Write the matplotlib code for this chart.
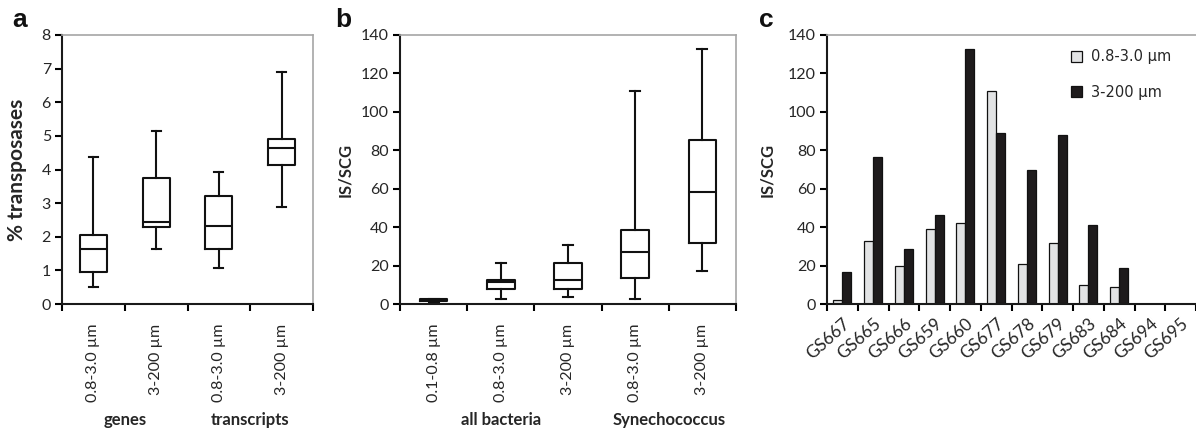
import matplotlib
matplotlib.use("Agg")
import matplotlib.pyplot as plt
import numpy as np

plt.rcParams['font.family'] = ['Lato', 'DejaVu Sans']

# ---------------- data ----------------
a_labels = ["0.8-3.0 µm", "3-200 µm", "0.8-3.0 µm", "3-200 µm"]
a_whislo = [0.50, 1.65, 1.07, 2.88]
a_q1 = [0.95, 2.30, 1.63, 4.12]
a_med = [1.65, 2.45, 2.32, 4.65]
a_q3 = [2.05, 3.75, 3.20, 4.90]
a_whishi = [4.38, 5.15, 3.92, 6.90]
a_groups = ["genes", "transcripts"]

b_labels = ["0.1-0.8 µm", "0.8-3.0 µm", "3-200 µm", "0.8-3.0 µm", "3-200 µm"]
b_whislo = [1.3, 2.5, 3.8, 2.8, 17.0]
b_q1 = [1.5, 7.8, 7.8, 13.5, 32.0]
b_med = [2.0, 11.5, 12.5, 27.0, 58.5]
b_q3 = [2.5, 12.5, 21.5, 38.5, 85.5]
b_whishi = [2.6, 21.5, 30.5, 111.0, 132.5]
b_groups = ["all bacteria", "Synechococcus"]

c_samples = ["GS667", "GS665", "GS666", "GS659", "GS660", "GS677",
             "GS678", "GS679", "GS683", "GS684", "GS694", "GS695"]
c_small = [2, 33, 20, 39, 42, 111, 21, 32, 10, 9, 0, 0]
c_large = [16.5, 76.5, 28.5, 46.5, 132.5, 89, 70, 88, 41, 18.5, 0, 0]
c_series = ["0.8-3.0 µm", "3-200 µm"]

# ---------------- layout ----------------
W, H = 1196, 430
fig = plt.figure(figsize=(W / 100, H / 100), dpi=100)


def px_axes(left, right, top, bottom):
    return fig.add_axes([left / W, 1 - bottom / H, (right - left) / W, (bottom - top) / H])


TICK_FS = 11.5
LABEL_FS = 12
GRAY = "#a6a6a6"
TXT = "#262626"


def style_axes(ax):
    for s in ("top", "right"):
        ax.spines[s].set_color(GRAY)
        ax.spines[s].set_linewidth(1.2)
    for s in ("left", "bottom"):
        ax.spines[s].set_color("#1a1a1a")
        ax.spines[s].set_linewidth(1.5)
    ax.tick_params(axis='y', direction='out', length=5, width=1.5, labelsize=TICK_FS,
                   labelcolor=TXT, pad=3)


def boxpanel(ax, labels, lo, q1, med, q3, hi, ymax, ystep, width, capw):
    n = len(labels)
    stats = [dict(whislo=lo[i], q1=q1[i], med=med[i], q3=q3[i], whishi=hi[i], fliers=[])
             for i in range(n)]
    lp = dict(color="#111111", linewidth=1.5)
    ax.bxp(stats, positions=np.arange(n), widths=width, capwidths=capw, showfliers=False,
           boxprops=lp, whiskerprops=lp, capprops=lp, medianprops=lp, manage_ticks=False)
    ax.set_xlim(-0.5, n - 0.5)
    ax.set_ylim(0, ymax)
    ax.set_yticks(np.arange(0, ymax + 0.01, ystep))
    ax.set_xticks(np.arange(n))
    ax.set_xticklabels(labels, rotation=90, fontsize=TICK_FS, color=TXT)
    ax.tick_params(axis='x', which='major', length=0, pad=14)
    ax.set_xticks(np.arange(n + 1) - 0.5, minor=True)
    ax.tick_params(axis='x', which='minor', direction='out', length=5, width=1.5)
    style_axes(ax)


# ---- panel a ----
axa = px_axes(62, 313, 35, 304)
boxpanel(axa, a_labels, a_whislo, a_q1, a_med, a_q3, a_whishi, 8, 1, 0.43, 0.14)
axa.set_ylabel("% transposases", fontsize=15, fontweight='bold', color=TXT)
axa.yaxis.set_label_coords(-0.14, 0.5)
for xg, g in zip([0.5, 2.5], a_groups):
    axa.text(xg, -0.432, g, transform=axa.get_xaxis_transform(), ha='center', va='center',
             fontsize=LABEL_FS, fontweight='bold', color=TXT)

# ---- panel b ----
axb = px_axes(400, 736, 35, 304)
boxpanel(axb, b_labels, b_whislo, b_q1, b_med, b_q3, b_whishi, 140, 20, 0.41, 0.15)
axb.set_ylabel("IS/SCG", fontsize=LABEL_FS, fontweight='bold', color=TXT)
axb.yaxis.set_label_coords(-0.14, 0.5)
for xg, g in zip([1.0, 3.5], b_groups):
    axb.text(xg, -0.432, g, transform=axb.get_xaxis_transform(), ha='center', va='center',
             fontsize=LABEL_FS, fontweight='bold', color=TXT)

# ---- panel c ----
axc = px_axes(827, 1196, 35, 304)
n = len(c_samples)
x = np.arange(n)
bw = 0.29
axc.bar(x - bw / 2, c_small, bw, color="#e2e3e4", edgecolor="#111111", linewidth=0.9,
        label=c_series[0])
axc.bar(x + bw / 2, c_large, bw, color="#1e1b1c", edgecolor="#111111", linewidth=0.9,
        label=c_series[1])
axc.set_xlim(-0.5, -0.5 + 369 / 31.1)
axc.set_ylim(0, 140)
axc.set_yticks(np.arange(0, 141, 20))
axc.set_xticks(x)
axc.set_xticklabels(c_samples, rotation=42, ha='right', rotation_mode='anchor',
                    fontsize=12.5, color=TXT)
axc.tick_params(axis='x', which='major', length=0, pad=8)
axc.set_xticks(np.arange(n + 1) - 0.5, minor=True)
axc.tick_params(axis='x', which='minor', direction='out', length=5, width=1.5)
style_axes(axc)
axc.spines['right'].set_visible(False)
axc.set_ylabel("IS/SCG", fontsize=LABEL_FS, fontweight='bold', color=TXT)
axc.yaxis.set_label_coords(-0.141, 0.5)
axc.legend(loc='upper left', bbox_to_anchor=(0.625, 0.995), frameon=False,
           prop=dict(family='DejaVu Sans', size=10.5), labelspacing=1.4,
           handlelength=0.8, handleheight=0.8, handletextpad=0.6, labelcolor=TXT)

# panel letters
for xp, lab in [(20, "a"), (343, "b"), (766, "c")]:
    fig.text(xp / W, 1 - 20 / H, lab, ha='center', va='center', fontsize=19,
             fontweight='bold', family=['Liberation Sans', 'DejaVu Sans'], color="#111111")

fig.savefig("out.png", dpi=100)
